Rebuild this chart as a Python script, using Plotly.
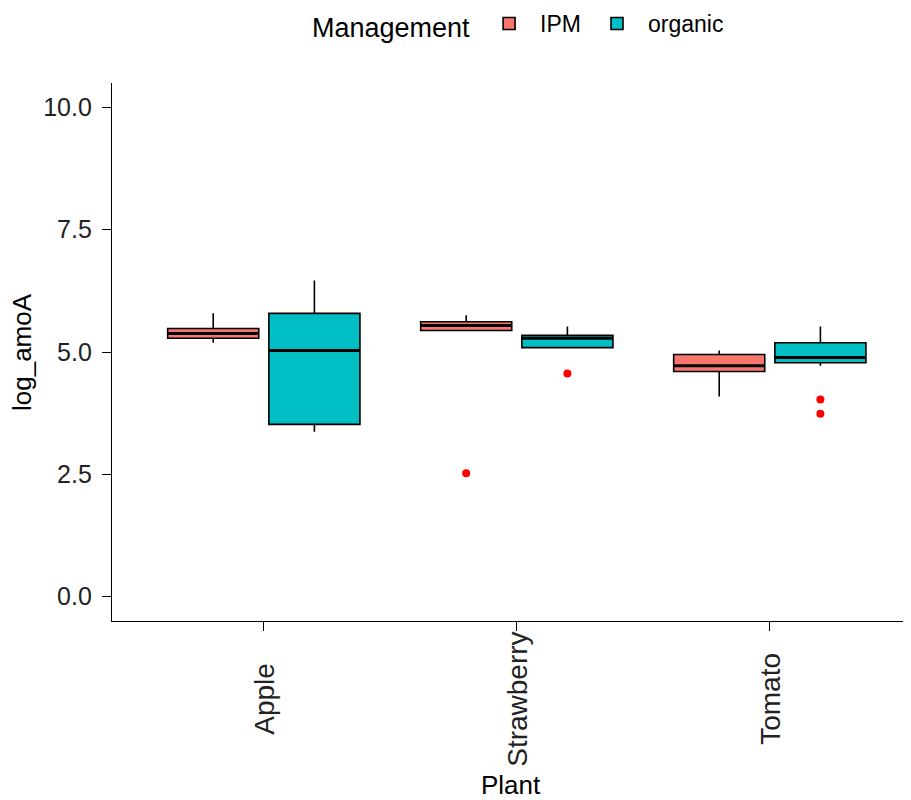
import plotly.graph_objects as go

plants = ["Apple", "Strawberry", "Tomato"]
groups = ["IPM", "organic"]
colors = {"IPM": "#F8766D", "organic": "#00BFC4"}

# box statistics per plant (Apple, Strawberry, Tomato)
ipm_lower = [5.19, 5.44, 4.09]
ipm_q1 = [5.28, 5.44, 4.60]
ipm_median = [5.38, 5.54, 4.72]
ipm_q3 = [5.48, 5.62, 4.95]
ipm_upper = [5.79, 5.75, 5.03]

org_lower = [3.37, 5.09, 4.72]
org_q1 = [3.52, 5.09, 4.78]
org_median = [5.03, 5.28, 4.89]
org_q3 = [5.79, 5.34, 5.19]
org_upper = [6.46, 5.52, 5.52]

# outliers
ipm_out_plant = ["Strawberry"]
ipm_out_val = [2.52]
org_out_plant = ["Strawberry", "Tomato", "Tomato"]
org_out_val = [4.56, 4.03, 3.74]

y_ticks = [0, 2.5, 5, 7.5, 10]
y_ticklabels = ["0.0", "2.5", "5.0", "7.5", "10.0"]

stats = {
    "IPM": (ipm_lower, ipm_q1, ipm_median, ipm_q3, ipm_upper, ipm_out_plant, ipm_out_val),
    "organic": (org_lower, org_q1, org_median, org_q3, org_upper, org_out_plant, org_out_val),
}

dodge = {"IPM": -0.2, "organic": 0.2}
BOXW = 0.36
idx = {p: i + 1 for i, p in enumerate(plants)}

FONT = "Liberation Sans, Arial, sans-serif"
W, H = 911, 800
L, T, B, R = 104, 75, 187, 0
PH = H - T - B

fig = go.Figure()
for g in groups:
    lo, q1, med, q3, up, op, ov = stats[g]
    xs = [idx[p] + dodge[g] for p in plants]
    fig.add_trace(go.Box(
        x=xs, lowerfence=lo, q1=q1, median=med, q3=q3, upperfence=up,
        name=g, width=BOXW, fillcolor=colors[g],
        line=dict(color="black", width=1.6), whiskerwidth=0,
        boxpoints=False, showlegend=True, hoverinfo="skip",
    ))
    mx, my = [], []
    for x, m in zip(xs, med):
        mx += [x - BOXW / 2, x + BOXW / 2, None]
        my += [m, m, None]
    fig.add_trace(go.Scatter(
        x=mx, y=my, mode="lines", line=dict(color="black", width=3),
        showlegend=False, hoverinfo="skip",
    ))
    fig.add_trace(go.Scatter(
        x=[idx[p] + dodge[g] for p in op], y=ov, mode="markers",
        marker=dict(color="red", size=8), showlegend=False, hoverinfo="skip",
    ))

annotations = []
for p in plants:
    annotations.append(dict(
        x=idx[p], xref="x", y=-(691 - (T + PH)) / PH, yref="paper",
        text=p, textangle=-90, showarrow=False, xanchor="center", yanchor="middle",
        font=dict(size=28, color="#222"),
    ))
annotations.append(dict(
    x=(503 - L) / (W - L - R), xref="paper", y=-(777 - (T + PH)) / PH, yref="paper",
    text="Plant", showarrow=False, xanchor="center", yanchor="middle",
    font=dict(size=26, color="black"),
))
annotations.append(dict(
    x=-(L - 14) / (W - L - R), xref="paper", y=0.5, yref="paper",
    text="log_amoA", textangle=-90, showarrow=False, xanchor="center", yanchor="middle",
    font=dict(size=26, color="black"),
))

fig.update_layout(
    width=W, height=H,
    plot_bgcolor="white", paper_bgcolor="white",
    margin=dict(l=L, r=R, t=T, b=B),
    font=dict(family=FONT, color="black"),
    legend=dict(
        orientation="h", xref="container", yref="container",
        x=302 / W, y=1 - 17 / H, xanchor="left", yanchor="middle",
        title=dict(text="Management", font=dict(size=27)),
        font=dict(size=23), itemwidth=52,
    ),
    boxmode="overlay",
    annotations=annotations,
)
fig.update_xaxes(
    range=[0.4, 0.4 + (W - L - R) / 253], tickvals=[1, 2, 3], ticktext=["", "", ""],
    showline=True, linecolor="black", linewidth=1.3, ticks="outside",
    ticklen=9, tickcolor="black", showgrid=False, zeroline=False,
    automargin=False,
)
fig.update_yaxes(
    range=[-0.5, 10.5], tickvals=y_ticks, ticktext=y_ticklabels,
    showline=True, linecolor="black", linewidth=1.3, ticks="outside",
    ticklen=9, tickcolor="black", showgrid=False, zeroline=False,
    tickfont=dict(size=25, color="#222"), automargin=False,
    ticklabelstandoff=5,
)
fig.write_html("out.html")
